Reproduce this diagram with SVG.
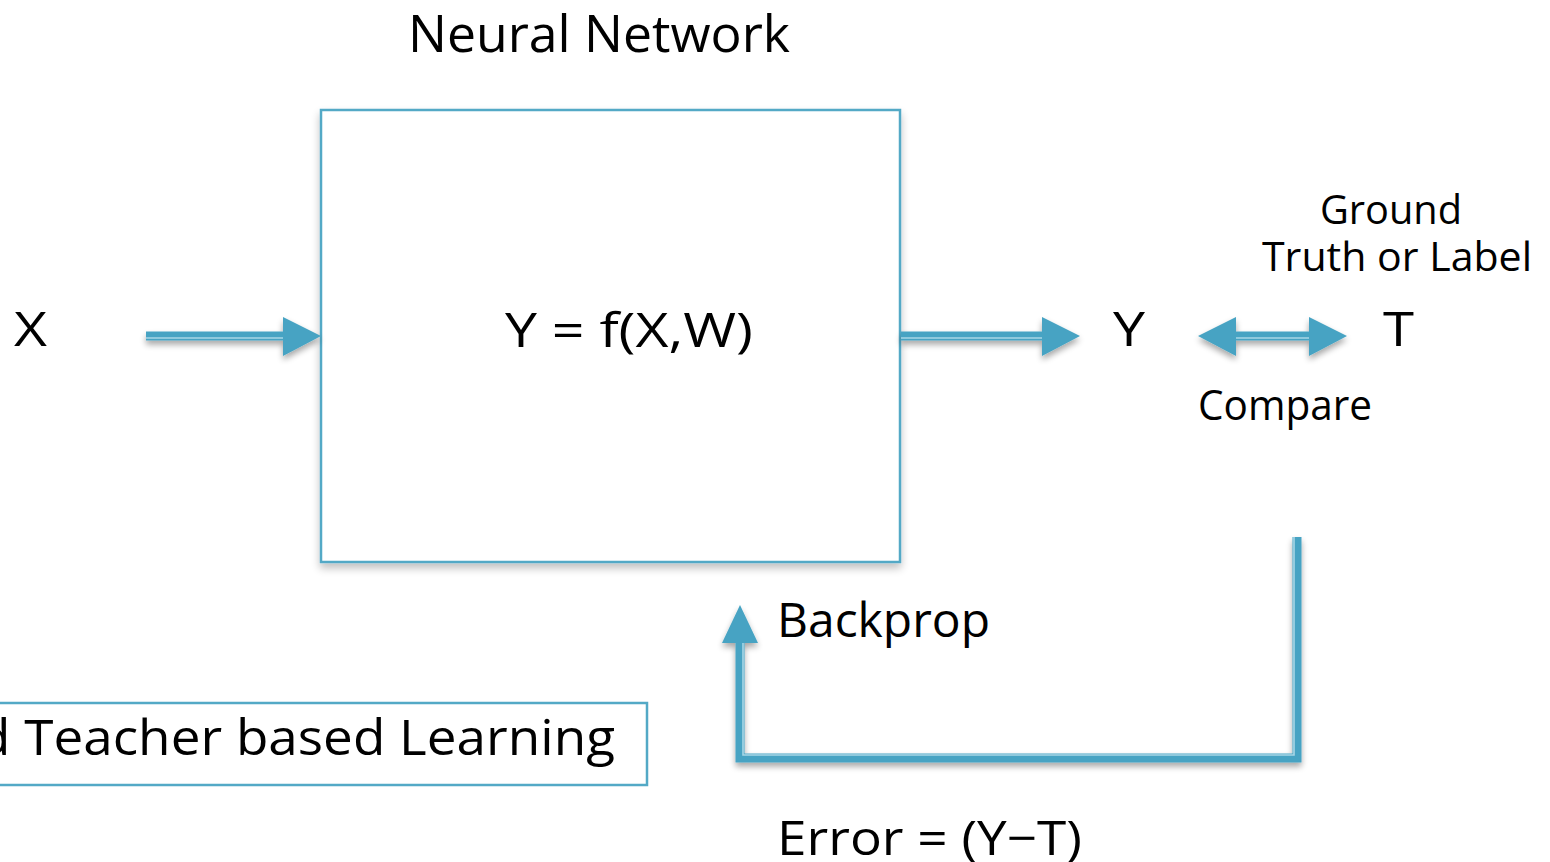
<svg xmlns="http://www.w3.org/2000/svg" width="1550" height="862" viewBox="0 0 1550 862">
  <defs>
    <filter id="shadow" x="-20%" y="-50%" width="140%" height="200%">
      <feGaussianBlur in="SourceAlpha" stdDeviation="3"/>
      <feOffset dx="0" dy="4" result="b"/>
      <feComponentTransfer><feFuncA type="linear" slope="0.35"/></feComponentTransfer>
      <feMerge><feMergeNode/><feMergeNode in="SourceGraphic"/></feMerge>
    </filter>
    <filter id="boxshadow" x="-5%" y="-5%" width="110%" height="110%">
      <feGaussianBlur in="SourceAlpha" stdDeviation="4"/>
      <feOffset dx="0" dy="5"/>
      <feComponentTransfer><feFuncA type="linear" slope="0.25"/></feComponentTransfer>
      <feMerge><feMergeNode/><feMergeNode in="SourceGraphic"/></feMerge>
    </filter>
  </defs>
  <style>
    text { font-family: "Open Sans", "Noto Sans", "DejaVu Sans", sans-serif; fill: #000; }
    .shaft { stroke: #46a3c3; stroke-width: 9; fill: none; }
    .stripe { stroke: #a8d6e6; stroke-width: 1.6; fill: none; }
    .head { fill: #46a3c3; }
    .frame { fill: #fff; stroke: #53a9c6; stroke-width: 2.5; }
  </style>
  <rect width="1550" height="862" fill="#fff"/>

  <!-- neural network block -->
  <g id="network">
    <text x="408" y="52" font-size="52" textLength="382" lengthAdjust="spacingAndGlyphs">Neural Network</text>
    <rect class="frame" x="321" y="110" width="579" height="452" filter="url(#boxshadow)"/>
    <text x="505" y="347" font-size="48" textLength="248" lengthAdjust="spacingAndGlyphs">Y = f(X,W)</text>
  </g>

  <g id="input">
    <text x="14" y="346" font-size="48" textLength="33" lengthAdjust="spacingAndGlyphs">X</text>
  </g>

  <g id="output">
    <text x="1113" y="346" font-size="48" textLength="32" lengthAdjust="spacingAndGlyphs">Y</text>
  </g>

  <g id="target">
    <text x="1383" y="346" font-size="48" textLength="31" lengthAdjust="spacingAndGlyphs">T</text>
    <text x="1320" y="224" font-size="40" textLength="142" lengthAdjust="spacingAndGlyphs">Ground</text>
    <text x="1262" y="271" font-size="40" textLength="270" lengthAdjust="spacingAndGlyphs">Truth or Label</text>
  </g>

  <g id="compare">
    <text x="1198" y="420" font-size="42" textLength="174" lengthAdjust="spacingAndGlyphs">Compare</text>
  </g>

  <g id="backprop">
    <text x="777" y="637" font-size="48" textLength="213" lengthAdjust="spacingAndGlyphs">Backprop</text>
  </g>

  <g id="error">
    <text x="777" y="855" font-size="48" textLength="305" lengthAdjust="spacingAndGlyphs">Error = (Y−T)</text>
  </g>

  <g id="learning">
    <rect x="-20" y="703" width="667" height="82" fill="#fff" stroke="#53a9c6" stroke-width="2.5"/>
    <text x="-22" y="755" font-size="50" textLength="637" lengthAdjust="spacingAndGlyphs">d Teacher based Learning</text>
  </g>

  <!-- connectors -->
  <g id="connectors" filter="url(#shadow)">
    <!-- X to network -->
    <line class="shaft" x1="146" y1="336" x2="286" y2="336"/>
    <line class="stripe" x1="146" y1="338" x2="286" y2="338"/>
    <polygon class="head" points="283,317 321,336 283,356"/>

    <!-- network to Y -->
    <line class="shaft" x1="901" y1="336" x2="1045" y2="336"/>
    <line class="stripe" x1="901" y1="338" x2="1045" y2="338"/>
    <polygon class="head" points="1042,317 1080,336 1042,356"/>

    <!-- compare Y and T -->
    <line class="shaft" x1="1232" y1="336" x2="1313" y2="336"/>
    <line class="stripe" x1="1232" y1="338" x2="1313" y2="338"/>
    <polygon class="head" points="1236,317 1198,336 1236,356"/>
    <polygon class="head" points="1309,317 1347,336 1309,356"/>

    <!-- error feedback -->
    <polyline class="shaft" points="1297,537 1297,758 740,758 740,640"/>
    <polyline class="stripe" points="1294,537 1294,755 743,755 743,640"/>
    <polygon class="head" points="740,605 758,643 722,643"/>
  </g>
</svg>
